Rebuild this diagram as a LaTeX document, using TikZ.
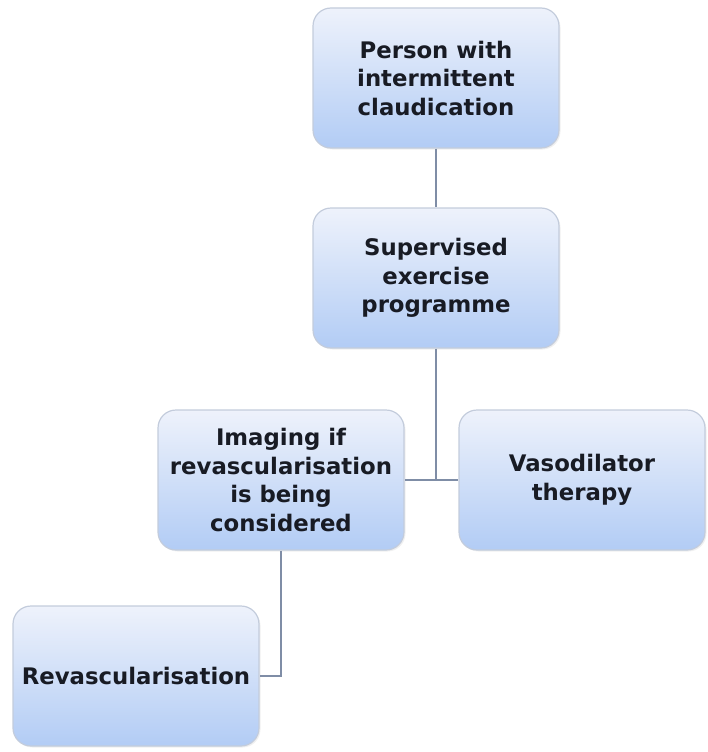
\documentclass[tikz,border=0pt]{standalone}
\usepackage{fontspec}
\setmainfont{DejaVu Sans}
\usetikzlibrary{shadows}
\definecolor{boxtop}{HTML}{EEF2FB}
\definecolor{boxbot}{HTML}{B2CCF5}
\definecolor{boxborder}{HTML}{C3CCDC}
\definecolor{linecol}{HTML}{7F8DA6}
\definecolor{textcol}{HTML}{181B24}
\begin{document}
\begin{tikzpicture}[x=1pt,y=-1pt,
  box/.style={rectangle, rounded corners=18pt, draw=boxborder, line width=1.2pt,
    top color=boxtop, bottom color=boxbot,
    minimum width=246pt, minimum height=140pt, align=center,
    font=\fontsize{22.8}{28.5}\selectfont\bfseries, text=textcol, inner sep=2pt,
    drop shadow={opacity=0.12, shadow xshift=1.5pt, shadow yshift=-1.5pt}},
  link/.style={draw=linecol, line width=2.8pt}]
\useasboundingbox (0,0) rectangle (707,752);
\node[box] (n1) at (436,78) {Person with\\intermittent\\claudication};
\node[box] (n2) at (436,278) {Supervised\\exercise\\programme};
\node[box] (n3) at (281,480) {Imaging if\\revascularisation\\is being\\considered};
\node[box] (n4) at (582,480) {Vasodilator\\therapy};
\node[box] (n5) at (136,676) {Revascularisation};
\coordinate (j) at (n2.south |- n3.east);
\draw[link] (n1) -- (n2);
\draw[link] (n2.south) -- (j);
\draw[link] (n3.east) -- (n4.west);
\draw[link] (n3.south) |- (n5.east);
\end{tikzpicture}
\end{document}
